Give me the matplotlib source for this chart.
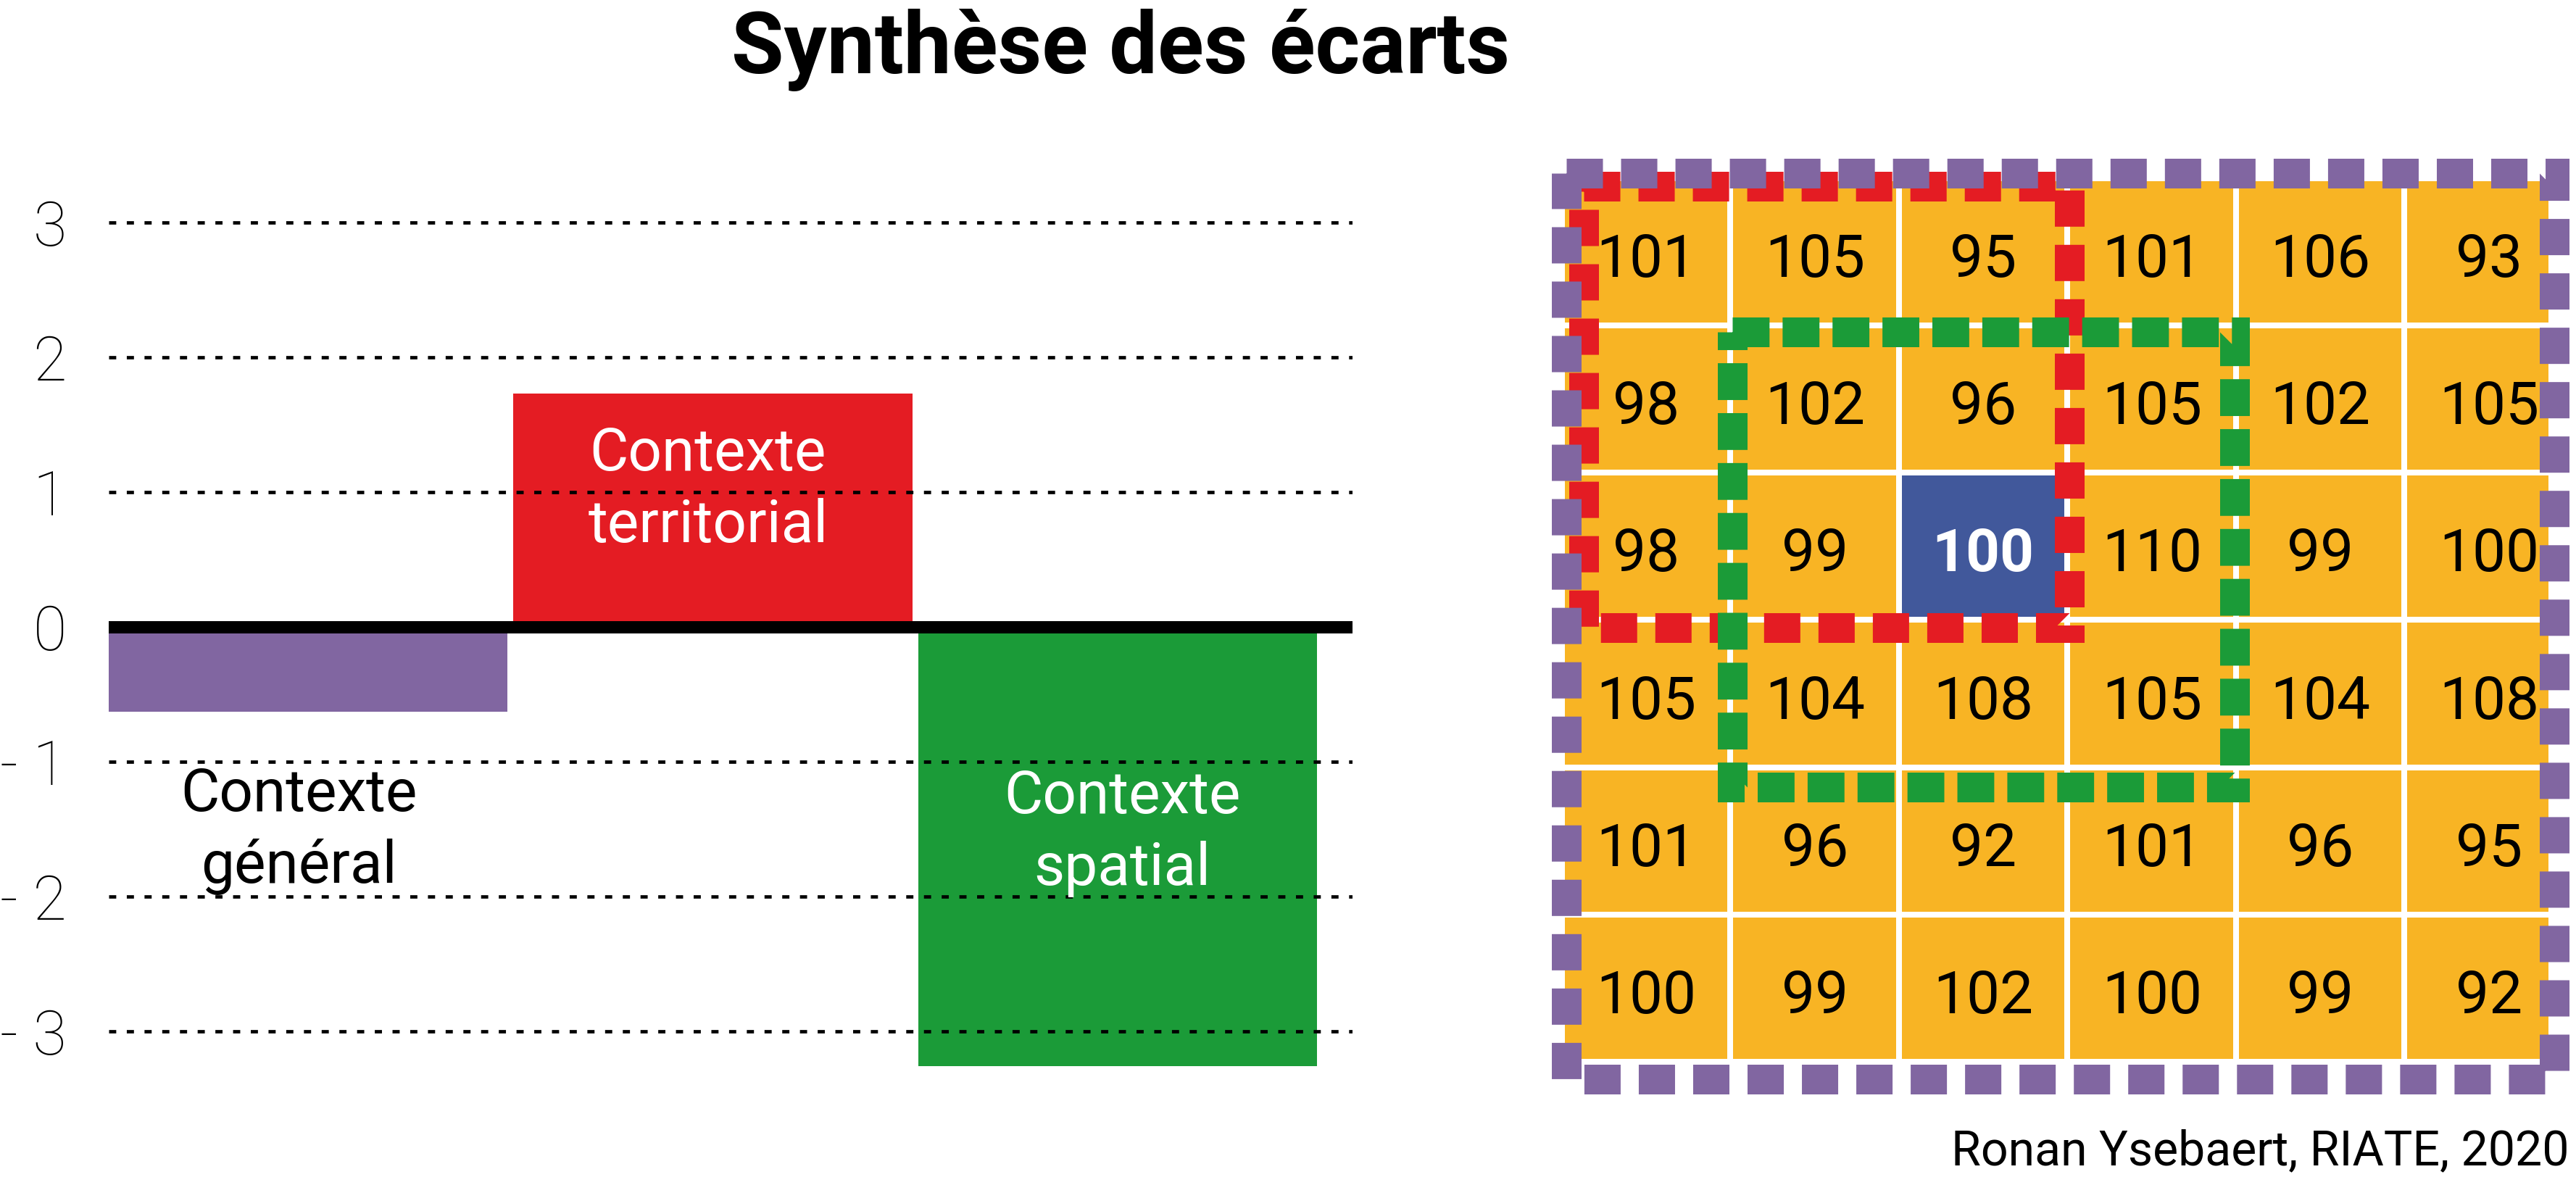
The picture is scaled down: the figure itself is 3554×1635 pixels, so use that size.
import numpy as np
import matplotlib
matplotlib.use("Agg")
import matplotlib.pyplot as plt
from matplotlib.colors import ListedColormap
from matplotlib.patches import Rectangle

plt.rcParams['font.family'] = ['Roboto', 'DejaVu Sans']

# ---------------- data ----------------
categories = ["Contexte\ngénéral", "Contexte\nterritorial", "Contexte\nspatial"]
ecarts = [-0.63, 1.73, -3.26]
ytick_values = [-3, -2, -1, 0, 1, 2, 3]
ytick_labels = ["- 3", "- 2", "- 1", "0", "1", "2", "3"]

grid_values = [
    [101, 105, 95, 101, 106, 93],
    [98, 102, 96, 105, 102, 105],
    [98, 99, 100, 110, 99, 100],
    [105, 104, 108, 105, 104, 108],
    [101, 96, 92, 101, 96, 95],
    [100, 99, 102, 100, 99, 92],
]
focus_cell = (2, 2)          # (row, col) of the unit studied
territorial_cells = (0, 0, 3, 3)   # row0, col0, nrows, ncols
spatial_cells = (1, 1, 3, 3)

title = "Synthèse des écarts"
credit = "Ronan Ysebaert, RIATE, 2020"

# ---------------- style ----------------
PURPLE = "#8166A1"
RED = "#E41C23"
GREEN = "#1B9B38"
ORANGE = "#F8B424"
BLUE = "#41589B"
bar_colors = [PURPLE, RED, GREEN]
label_colors = ["black", "white", "white"]

W, H = 3554, 1635
DPI = 100
fig = plt.figure(figsize=(W / DPI, H / DPI), dpi=DPI)
px2pt = 72.0 / DPI

def fig_rect(x0, y0, x1, y1):
    return [x0 / W, 1 - y1 / H, (x1 - x0) / W, (y1 - y0) / H]

# ---------------- left: bar chart ----------------
ax = fig.add_axes(fig_rect(150, 250, 1866, 1480))
x = np.arange(len(categories))
ax.bar(x, ecarts, width=0.985, color=bar_colors, zorder=2)
ax.set_xlim(-0.4924, 2.580)
ax.set_ylim(-3.306, 3.306)
for s in ax.spines.values():
    s.set_visible(False)
ax.set_xticks([])
ax.set_yticks(ytick_values)
ax.set_yticklabels(ytick_labels)
ax.tick_params(axis='y', length=0, pad=58 * px2pt, labelsize=61)
for t in ax.get_yticklabels():
    t.set_fontweight('light')
ax.grid(axis='y', color='black', linewidth=4.7 * px2pt,
        linestyle=(0, (2.1, 3.1)), zorder=3)
ax.set_axisbelow(False)
for gl in ax.get_ygridlines():
    gl.set_zorder(3)
ax.axhline(0, color='black', linewidth=17 * px2pt, zorder=4)

# label offsets (x relative to bar, y = baseline of last line)
label_pos = [(-0.022, -1.898), (-0.012, 0.629), (0.011, -1.914)]
for i, ((dx, ly), txt, c) in enumerate(zip(label_pos, categories, label_colors)):
    ax.text(x[i] + dx, ly, txt, ha='center', va='baseline', color=c,
            fontsize=59, linespacing=1.34, multialignment='center', zorder=5)

# ---------------- right: grid ----------------
ax2 = fig.add_axes(fig_rect(2155, 246, 3516, 1465))
vals = np.array(grid_values)
nr, nc = vals.shape
cidx = np.zeros_like(vals)
cidx[focus_cell] = 1
ax2.pcolormesh(np.arange(nc + 1), np.arange(nr + 1), cidx,
               cmap=ListedColormap([ORANGE, BLUE]), vmin=0, vmax=1,
               edgecolors='white', linewidth=8 * px2pt)
ax2.set_xlim(0, 5.854)
ax2.set_ylim(nr, 0)
ax2.axis('off')
for r in range(nr):
    for c in range(nc):
        focus = (r, c) == focus_cell
        ax2.text(c + 0.5, r + 0.5 + 0.17, str(vals[r, c]), ha='center',
                 va='baseline', fontsize=59,
                 color='white' if focus else 'black',
                 fontweight='bold' if focus else 'normal', zorder=6)

lw_rect = 41 * px2pt
# territorial (red), spatial (green), general (purple) outlines
r0, c0, hr, wc = territorial_cells
ax2.add_patch(Rectangle((c0 + 0.129, r0 + 0.054), wc - 0.118, hr - 0.002,
                        fill=False, edgecolor=RED, linewidth=lw_rect,
                        linestyle=(0, (1.22, 0.61)), joinstyle='miter',
                        clip_on=False, zorder=7))
r0, c0, hr, wc = spatial_cells
ax2.add_patch(Rectangle((c0 + 0.011, r0 + 0.043), wc - 0.02, hr + 0.091,
                        fill=False, edgecolor=GREEN, linewidth=lw_rect,
                        linestyle=(0, (1.24, 0.44)), joinstyle='miter',
                        clip_on=False, zorder=8))
ax2.add_patch(Rectangle((0.026, -0.034), 5.862, nr + 0.152,
                        fill=False, edgecolor=PURPLE, linewidth=lw_rect,
                        linestyle=(0, (1.22, 0.61)), joinstyle='miter',
                        clip_on=False, zorder=9))

# ---------------- texts ----------------
fig.text(1546 / W, 1 - 101 / H, title, ha='center', va='baseline',
         fontsize=85, fontweight='bold')
fig.text(3545 / W, 1 - 1607 / H, credit, ha='right', va='baseline',
         fontsize=47.7)

fig.savefig("out.png", dpi=DPI)
